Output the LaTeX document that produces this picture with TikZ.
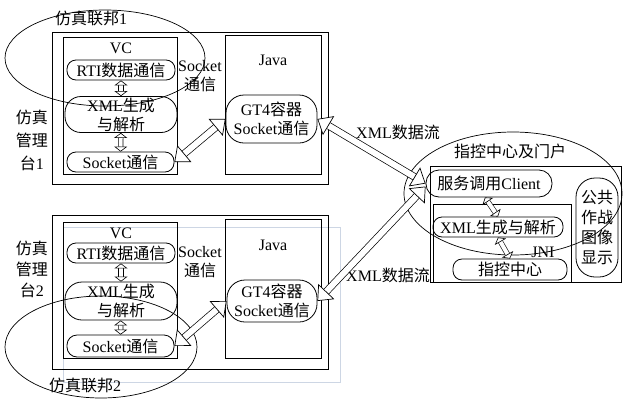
\documentclass[tikz,border=0pt]{standalone}
\usepackage{fontspec}
\setmainfont{Liberation Serif}
\newfontfamily\cjk{Noto Sans CJK SC}
\usepackage{tikz}
\usetikzlibrary{arrows.meta, positioning}
\newcommand{\zh}[1]{{\cjk #1}}
\definecolor{faint}{RGB}{205,214,228}

\begin{document}
\begin{tikzpicture}[x=1pt, y=-1pt,
    font=\fontsize{16}{19}\selectfont,
    frame/.style = {draw, line width=0.8pt, inner sep=0pt, outer sep=0pt},
    module/.style = {draw, line width=0.8pt, rounded corners=9pt, inner sep=0pt, align=center},
    txt/.style = {inner sep=0pt, align=center},
    bigflow/.style = {double, double distance=6pt, line width=0.7pt, {Triangle[open, fill=white, length=13pt, width=22pt]}-{Triangle[open, fill=white, length=13pt, width=22pt]}},
    smallflow/.style = {double, double distance=4pt, line width=0.6pt, {Triangle[open, fill=white, length=5pt, width=13pt]}-{Triangle[open, fill=white, length=5pt, width=13pt]}}
]
    \useasboundingbox (0,0) rectangle (623,399);

    % 仿真管理台1
    \node (box1) [frame, line width=0.9pt, minimum width=276, minimum height=152] at (190,108) {};
    \node (vc1) [frame, minimum width=114, minimum height=137] at (120,105.5) {};
    \node (java1) [frame, minimum width=96, minimum height=139] at (273,104.5) {};
    \node (vcname1) [txt] at (121,48) {VC};
    \node (javaname1) [txt] at (273,60) {Java};
    \node (rti1) [module, minimum width=108, minimum height=20] at (121,70) {RTI\zh{数据通信}};
    \node (xml1) [module, rounded corners=16pt, minimum width=112, minimum height=36] at (121,114.5) {XML\zh{生成}\\\zh{与解析}};
    \node (sock1) [module, minimum width=107, minimum height=20] at (120.5,162) {Socket\zh{通信}};
    \node (gt1) [module, rounded corners=18pt, minimum width=91, minimum height=48] at (271.5,119) {GT4\zh{容器}\\Socket\zh{通信}};
    \node (sk1) [txt] at (200,76) {Socket\\\zh{通信}};
    \node (mgr1) [txt, font=\fontsize{16}{23}\selectfont] at (32,140) {\zh{仿真}\\\zh{管理}\\\zh{台}1};
    \draw [line width=0.7pt] (105,58) ellipse [x radius=100pt, y radius=48pt];
    \node (fed1) [txt] at (91,18) {\zh{仿真联邦}1};

    % 仿真管理台2
    \draw [faint, line width=0.5pt] (63,227) rectangle (340,382);
    \node (box2) [frame, line width=0.9pt, minimum width=276, minimum height=154] at (190,292) {};
    \node (vc2) [frame, minimum width=114, minimum height=136] at (120,290) {};
    \node (java2) [frame, minimum width=96, minimum height=139] at (273,288.5) {};
    \node (vcname2) [txt] at (121,233) {VC};
    \node (javaname2) [txt] at (273,245) {Java};
    \node (rti2) [module, minimum width=108, minimum height=20] at (121,253) {RTI\zh{数据通信}};
    \node (xml2) [module, rounded corners=17pt, minimum width=112, minimum height=38] at (121,301) {XML\zh{生成}\\\zh{与解析}};
    \node (sock2) [module, rounded corners=10pt, minimum width=107, minimum height=22] at (120.5,346) {Socket\zh{通信}};
    \node (gt2) [module, rounded corners=18pt, minimum width=90, minimum height=42] at (272,301) {GT4\zh{容器}\\Socket\zh{通信}};
    \node (sk2) [txt] at (200,262) {Socket\\\zh{通信}};
    \node (mgr2) [txt, font=\fontsize{16}{21}\selectfont] at (32,269) {\zh{仿真}\\\zh{管理}\\\zh{台}2};
    \draw [line width=0.7pt] (101,347) ellipse [x radius=96pt, y radius=51pt];
    \node (fed2) [txt] at (85,385) {\zh{仿真联邦}2};

    % 指控中心及门户
    \node (portal) [frame, minimum width=191, minimum height=116] at (525.5,224) {};
    \node (inner) [frame, minimum width=138, minimum height=78] at (502,243) {};
    \node (client) [module, rounded corners=13pt, minimum width=126, minimum height=27] at (489,183.5) {\zh{服务调用}Client};
    \node (xmlp) [module, minimum width=130, minimum height=20] at (498,227) {XML\zh{生成与解析}};
    \node (zk) [module, minimum width=114, minimum height=21] at (510,269.5) {\zh{指控中心}};
    \node (pub) [module, rounded corners=19pt, minimum width=42, minimum height=99, font=\fontsize{16}{20}\selectfont] at (597,227.5) {\zh{公共}\\\zh{作战}\\\zh{图像}\\\zh{显示}};
    \node (jni) [txt] at (543,252) {JNI};
    \draw [line width=0.7pt] (513,193.5) ellipse [x radius=109pt, y radius=61.5pt];
    \node (center) [txt] at (510,151) {\zh{指控中心及门户}};

    % data flows
    \node (flow1) [txt] at (398,132) {XML\zh{数据流}};
    \node (flow2) [txt] at (388,275) {XML\zh{数据流}};

    % Arrows
    \draw [smallflow] (rti1) -- (xml1);
    \draw [smallflow] (xml1) -- (sock1);
    \draw [smallflow] (rti2) -- (xml2);
    \draw [smallflow] (xml2) -- (sock2);
    \draw [smallflow] ([xshift=-4pt]client.south) -- (xmlp.north);
    \draw [smallflow] (xmlp.south) -- (zk.north);
    \draw [bigflow] (sock1.east) -- (gt1.west);
    \draw [bigflow] (sock2.east) -- (gt2.west);
    \draw [bigflow] (gt1.east) -- (client.west);
    \draw [bigflow] (gt2.east) -- ([yshift=-3pt]client.west);

\end{tikzpicture}
\end{document}
